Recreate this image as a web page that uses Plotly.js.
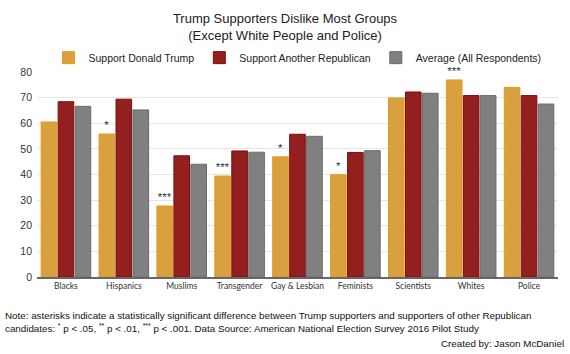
<!DOCTYPE html>
<html><head><meta charset="utf-8">
<script src="https://cdn.plot.ly/plotly-3.0.1.min.js"></script>
<style>html,body{margin:0;padding:0;background:#fff}#chart{width:570px;height:354px}</style>
</head><body><div id="chart"></div>
<script>
const categories = ['Blacks','Hispanics','Muslims','Transgender','Gay & Lesbian','Feminists','Scientists','Whites','Police'];
const trumpValues = [60.5, 55.8, 27.7, 39.4, 46.9, 39.9, 69.9, 76.9, 74.0];
const otherRepValues = [68.4, 69.4, 47.3, 49.2, 55.7, 48.6, 72.2, 70.8, 70.8];
const averageValues = [66.6, 65.2, 44.0, 48.7, 54.9, 49.3, 71.7, 70.8, 67.5];
const significance = ['', '*', '***', '***', '*', '*', '', '***', ''];
const yTicks = [0,10,20,30,40,50,60,70,80];

const base = {type:'bar', x:categories, cliponaxis:false};
const traces = [
  Object.assign({}, base, {name:'Support Donald Trump', y:trumpValues,
    marker:{color:'#D8A03E', line:{color:'#E39A1E', width:1}},
    text:significance, textposition:'outside', constraintext:'none', textfont:{size:11.5, color:'#333', family:'Liberation Sans'}}),
  Object.assign({}, base, {name:'Support Another Republican', y:otherRepValues,
    marker:{color:'#941F1F', line:{color:'#7A0E0E', width:1}}}),
  Object.assign({}, base, {name:'Average (All Respondents)', y:averageValues,
    marker:{color:'#808080', line:{color:'#6A6A6A', width:1}}})
];

const layout = {
  width:570, height:354,
  margin:{l:37, r:12, t:72, b:77},
  paper_bgcolor:'#fff', plot_bgcolor:'#fff',
  font:{family:'Liberation Sans, Arial, sans-serif', color:'#222'},
  title:{text:'Trump Supporters Dislike Most Groups<br>(Except White People and Police)', x:0.5, xanchor:'center', yref:'container', y:0.935, yanchor:'middle', font:{size:13, color:'#222'}},
  barmode:'group', bargap:0.12, bargroupgap:0.08,
  showlegend:true,
  legend:{orientation:'h', x:0.5, xanchor:'center', y:1.07, yanchor:'middle', bgcolor:'rgba(0,0,0,0)', font:{size:10.5, color:'#222'}, itemwidth:30, tracegroupgap:0},
  xaxis:{type:'category', showline:true, linecolor:'#666', linewidth:2, ticks:'', tickangle:0, tickfont:{size:8.5, family:'Lato, sans-serif', color:'#333'}, showgrid:false, zeroline:false},
  yaxis:{range:[0,80], tickvals:yTicks, ticktext:yTicks.map(String), showgrid:true, gridcolor:'#E6E6E6', gridwidth:1, zeroline:false, showline:false, ticks:'', tickfont:{size:10.5, color:'#333'}, ticklabelstandoff:4},
  annotations:[
    {xref:'paper', yref:'paper', x:-0.065, y:-0.15, xanchor:'left', yanchor:'top', align:'left', showarrow:false,
     text:'Note: asterisks indicate a statistically significant difference between Trump supporters and supporters of other Republican<br>candidates: <sup>*</sup> p &lt; .05, <sup>**</sup> p &lt; .01, <sup>***</sup> p &lt; .001. Data Source: American National Election Survey 2016 Pilot Study',
     font:{size:9.8, color:'#111'}},
    {xref:'paper', yref:'paper', x:1.016, y:-0.29, xanchor:'right', yanchor:'top', showarrow:false,
     text:'Created by: Jason McDaniel', font:{size:9.8, color:'#111'}}
  ]
};
Plotly.newPlot('chart', traces, layout, {displayModeBar:false, staticPlot:true});
</script></body></html>
